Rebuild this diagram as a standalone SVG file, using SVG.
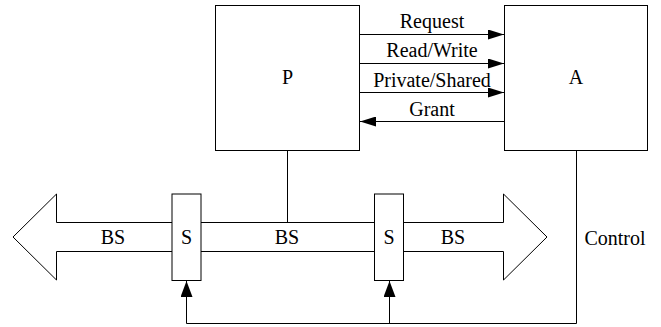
<svg xmlns="http://www.w3.org/2000/svg" width="661" height="327" viewBox="0 0 661 327">
<style>
.box{fill:#fff;stroke:#000;stroke-width:1}
.ln{fill:none;stroke:#000;stroke-width:1}
.t{font-family:'Liberation Serif','Times New Roman','DejaVu Serif',serif;font-size:20px;fill:#000;text-anchor:middle}
</style>
<defs>
<marker id="ah" markerWidth="16" markerHeight="10" refX="16" refY="5" orient="auto" markerUnits="userSpaceOnUse">
<path d="M0,0 L16,5 L0,10 z" fill="#000"/>
</marker>
<marker id="ahu" markerWidth="16" markerHeight="12" refX="16" refY="6" orient="auto" markerUnits="userSpaceOnUse">
<path d="M0,0 L16,6 L0,12 z" fill="#000"/>
</marker>
</defs>
<g id="bus">
<polygon class="box" points="13,237 56.5,194 56.5,222.5 503.5,222.5 503.5,194 547,237 503.5,280 503.5,251.5 56.5,251.5 56.5,280"/>
<text class="t" font-family="Liberation Serif, serif" x="113" y="244">BS</text>
<text class="t" font-family="Liberation Serif, serif" x="287" y="244">BS</text>
<text class="t" font-family="Liberation Serif, serif" x="453" y="244">BS</text>
</g>
<g id="connectors">
<line class="ln" x1="287.5" y1="151" x2="287.5" y2="222.5"/>
<line class="ln" x1="359" y1="34.5" x2="504" y2="34.5" marker-end="url(#ah)"/>
<line class="ln" x1="359" y1="63.5" x2="504" y2="63.5" marker-end="url(#ah)"/>
<line class="ln" x1="359" y1="92.5" x2="504" y2="92.5" marker-end="url(#ah)"/>
<line class="ln" x1="504" y1="121.5" x2="360" y2="121.5" marker-end="url(#ah)"/>
<polyline class="ln" points="576.5,150 576.5,323.5 186.5,323.5 186.5,281"/>
<line class="ln" x1="389.5" y1="323.5" x2="389.5" y2="281" marker-end="url(#ahu)"/>
<line class="ln" x1="186.5" y1="300" x2="186.5" y2="281" marker-end="url(#ahu)"/>
<text class="t" font-family="Liberation Serif, serif" x="432" y="28">Request</text>
<text class="t" font-family="Liberation Serif, serif" x="432" y="57">Read/Write</text>
<text class="t" font-family="Liberation Serif, serif" x="432" y="87">Private/Shared</text>
<text class="t" font-family="Liberation Serif, serif" x="432" y="116">Grant</text>
<text class="t" font-family="Liberation Serif, serif" x="615" y="245">Control</text>
</g>
<g id="P">
<rect class="box" x="215.5" y="5.5" width="144" height="145"/>
<text class="t" font-family="Liberation Serif, serif" x="287.5" y="84">P</text>
</g>
<g id="A">
<rect class="box" x="504.5" y="5.5" width="143" height="145"/>
<text class="t" font-family="Liberation Serif, serif" x="576" y="84">A</text>
</g>
<g id="s1">
<rect class="box" x="172" y="194" width="29" height="86.5"/>
<text class="t" font-family="Liberation Serif, serif" x="186.5" y="244">S</text>
</g>
<g id="s2">
<rect class="box" x="374.5" y="194" width="29" height="86.5"/>
<text class="t" font-family="Liberation Serif, serif" x="389" y="244">S</text>
</g>
</svg>
